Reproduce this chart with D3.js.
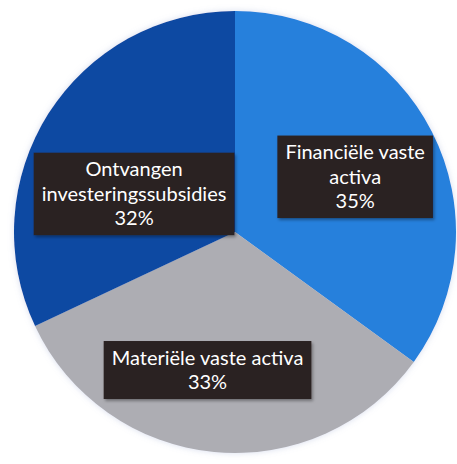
<!DOCTYPE html>
<html>
<head>
<meta charset="utf-8">
<script src="https://cdn.jsdelivr.net/npm/d3@7"></script>
<style>
  html, body { margin: 0; padding: 0; background: #ffffff; }
  svg { display: block; }
  .lbl text { font-family: Lato, "Open Sans", sans-serif; fill: #ffffff; }
</style>
</head>
<body>
<svg id="chart" width="457" height="464"></svg>
<script>
// Balance-sheet composition (share of total, %)
const categories = ["Financiële vaste activa", "Materiële vaste activa", "Ontvangen investeringssubsidies"];
const values = [35, 33, 32];
const labelLines = [
  ["Financiële vaste", "activa"],
  ["Materiële vaste activa"],
  ["Ontvangen", "investeringssubsidies"]
];
const colors = ["#2680dc", "#adadb3", "#0a4aa2"];

// Label nudges (px) relative to each slice's label anchor
const labelNudge = [[2, 5], [-15, 6], [11, 33]];

const W = 457, H = 464;
const cx = 235, cy = 232, R = 221;
const fontSize = 20, lineH = 24.5, padX = 8, padY = 4.5;

const svg = d3.select("#chart");
const defs = svg.append("defs");
const sh = defs.append("filter").attr("id", "boxShadow")
  .attr("x", "-10%").attr("y", "-20%").attr("width", "125%").attr("height", "150%");
sh.append("feDropShadow").attr("dx", 1.5).attr("dy", 2).attr("stdDeviation", 1.5)
  .attr("flood-color", "#000").attr("flood-opacity", 0.35);
const glow = defs.append("filter").attr("id", "pieGlow")
  .attr("x", "-5%").attr("y", "-5%").attr("width", "110%").attr("height", "110%");
glow.append("feDropShadow").attr("dx", 0).attr("dy", 0).attr("stdDeviation", 3)
  .attr("flood-color", "#8f9ccf").attr("flood-opacity", 0.35);

const data = categories.map((c, i) => ({ cat: c, value: values[i], lines: labelLines[i], i }));

const pie = d3.pie().sort(null).value(d => d.value);
const arcs = pie(data);
const arc = d3.arc().innerRadius(0).outerRadius(R);
const labelArc = d3.arc().innerRadius(R * 0.6).outerRadius(R * 0.6);

const g = svg.append("g").attr("transform", `translate(${cx},${cy})`);

g.append("g").attr("filter", "url(#pieGlow)")
  .selectAll("path").data(arcs).join("path")
  .attr("d", arc)
  .attr("fill", d => colors[d.data.i]);

const lbl = g.selectAll("g.lbl").data(arcs).join("g").attr("class", "lbl")
  .attr("transform", d => {
    const [x, y] = labelArc.centroid(d);
    const n = labelNudge[d.data.i];
    return `translate(${x + n[0]},${y + n[1]})`;
  });

lbl.each(function(d) {
  const sel = d3.select(this);
  const lines = d.data.lines.concat([d3.format(".0%")(d.data.value / 100)]);
  const rect = sel.append("rect").attr("fill", "#2a2122").attr("filter", "url(#boxShadow)");
  const total = lines.length * lineH;
  const t = sel.append("text").attr("text-anchor", "middle").attr("font-size", fontSize);
  lines.forEach((ln, k) => {
    t.append("tspan").attr("x", 0)
      .attr("y", -total / 2 + lineH * (k + 0.5))
      .attr("dy", "0.35em")
      .text(ln);
  });
  const bb = t.node().getBBox();
  const w = bb.width + padX * 2, h = total + padY * 2;
  rect.attr("x", -w / 2).attr("y", -h / 2).attr("width", w).attr("height", h);
});
</script>
</body>
</html>
